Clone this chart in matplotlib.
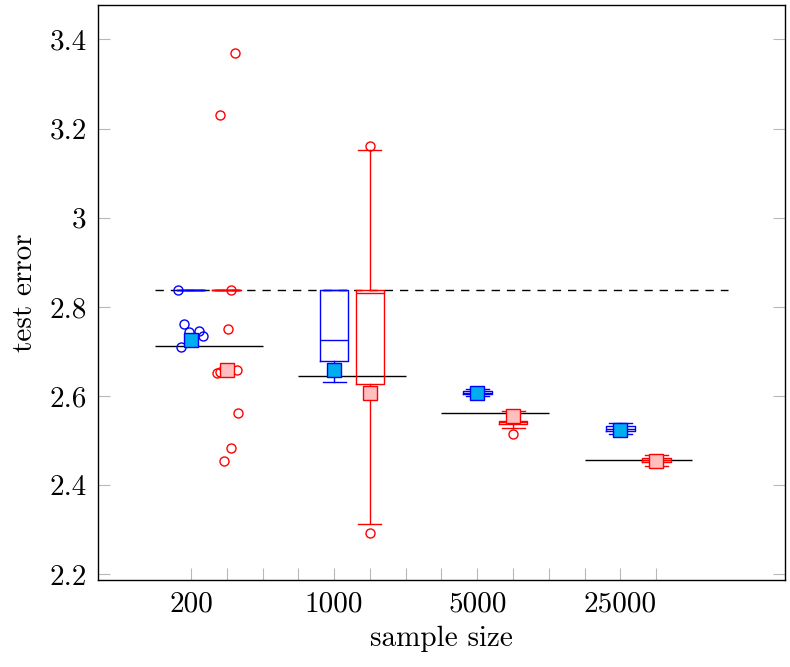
import matplotlib
matplotlib.use('Agg')
from matplotlib import pyplot as plt
import numpy as np

plt.rcParams['font.family'] = 'cmr10'
plt.rcParams['axes.formatter.use_mathtext'] = True

# categories
sizes = ['200', '1000', '5000', '25000']
pos = np.array([1, 2, 3, 4])

# blue series (box stats)
blue_lo = [2.838, 2.632, 2.600, 2.515]
blue_q1 = [2.838, 2.679, 2.604, 2.522]
blue_med = [2.838, 2.727, 2.608, 2.527]
blue_q3 = [2.838, 2.838, 2.612, 2.532]
blue_hi = [2.838, 2.838, 2.615, 2.540]
blue_mean = [2.727, 2.658, 2.607, 2.524]

# red series (box stats)
red_lo = [2.838, 2.313, 2.528, 2.444]
red_q1 = [2.838, 2.627, 2.538, 2.452]
red_med = [2.838, 2.831, 2.541, 2.457]
red_q3 = [2.838, 2.838, 2.545, 2.462]
red_hi = [2.838, 3.153, 2.566, 2.468]
red_mean = [2.658, 2.607, 2.555, 2.455]

# outliers: (value, horizontal jitter)
blue_fly = [[(2.838, -0.093), (2.762, -0.047), (2.744, -0.012), (2.745, 0.058),
             (2.734, 0.084), (2.711, -0.070)], [], [], []]
red_fly = [[(3.370, 0.054), (3.231, -0.046), (2.838, 0.029), (2.751, 0.006),
            (2.652, -0.069), (2.655, -0.050), (2.658, 0.070), (2.562, 0.077),
            (2.484, 0.029), (2.455, -0.022)],
           [(3.160, 0.0), (2.293, 0.0)],
           [(2.515, 0.0)], []]

# reference lines
base_err = [2.712, 2.646, 2.562, 2.456]
dashed_err = 2.838


def stats(lo, q1, med, q3, hi):
    return [dict(whislo=a, q1=b, med=c, q3=d, whishi=e, fliers=[])
            for a, b, c, d, e in zip(lo, q1, med, q3, hi)]


fig = plt.figure(figsize=(7.9, 6.67), dpi=100)
ax = fig.add_axes([0.124, 0.13, 0.8697, 0.863])

ax.plot([0.75, 4.75], [dashed_err, dashed_err], color='k', lw=1.0, dashes=(6, 5), zorder=1)
ax.hlines(base_err, pos - 0.25, pos + 0.5, color='k', lw=1.0, zorder=1)

for st, off, col, mean, fill, fly in [
        (stats(blue_lo, blue_q1, blue_med, blue_q3, blue_hi), 0.0, 'blue', blue_mean, '#00aeef', blue_fly),
        (stats(red_lo, red_q1, red_med, red_q3, red_hi), 0.25, 'red', red_mean, '#ffbfbf', red_fly)]:
    lp = dict(color=col, lw=1.0)
    ax.bxp(st, positions=pos + off, widths=0.2, capwidths=0.16, showfliers=False,
           boxprops=lp, whiskerprops=lp, capprops=lp, medianprops=lp,
           manage_ticks=False, zorder=2)
    for i, pts in enumerate(fly):
        for v, j in pts:
            ax.plot(pos[i] + off + j, v, 'o', mfc='none', mec=col, ms=6.5, mew=1.0, zorder=3)
    ax.plot(pos + off, mean, 's', color=col, mfc=fill, mec=col, ms=10, mew=1.0,
            linestyle='none', zorder=4)

ax.set_xlim(0.35, 5.15)
ax.set_ylim(2.187, 3.478)
ax.set_xticks(pos, sizes)
ax.set_xticks([p for p in np.arange(1.25, 4.5, 0.25) if p % 1 != 0], minor=True)
yt = [2.2, 2.4, 2.6, 2.8, 3.0, 3.2, 3.4]
ax.set_yticks(yt, ['2.2', '2.4', '2.6', '2.8', '3', '3.2', '3.4'])
ax.tick_params(which='both', direction='in', length=8.5, color='0.72', width=0.8,
               top=False, right=True, labelsize=21, pad=8)
for s in ax.spines.values():
    s.set_linewidth(1.0)

ax.set_xlabel('sample size', fontsize=21, labelpad=6)
ax.set_ylabel('test error', fontsize=21, labelpad=8)

plt.savefig('out.png', dpi=100)
